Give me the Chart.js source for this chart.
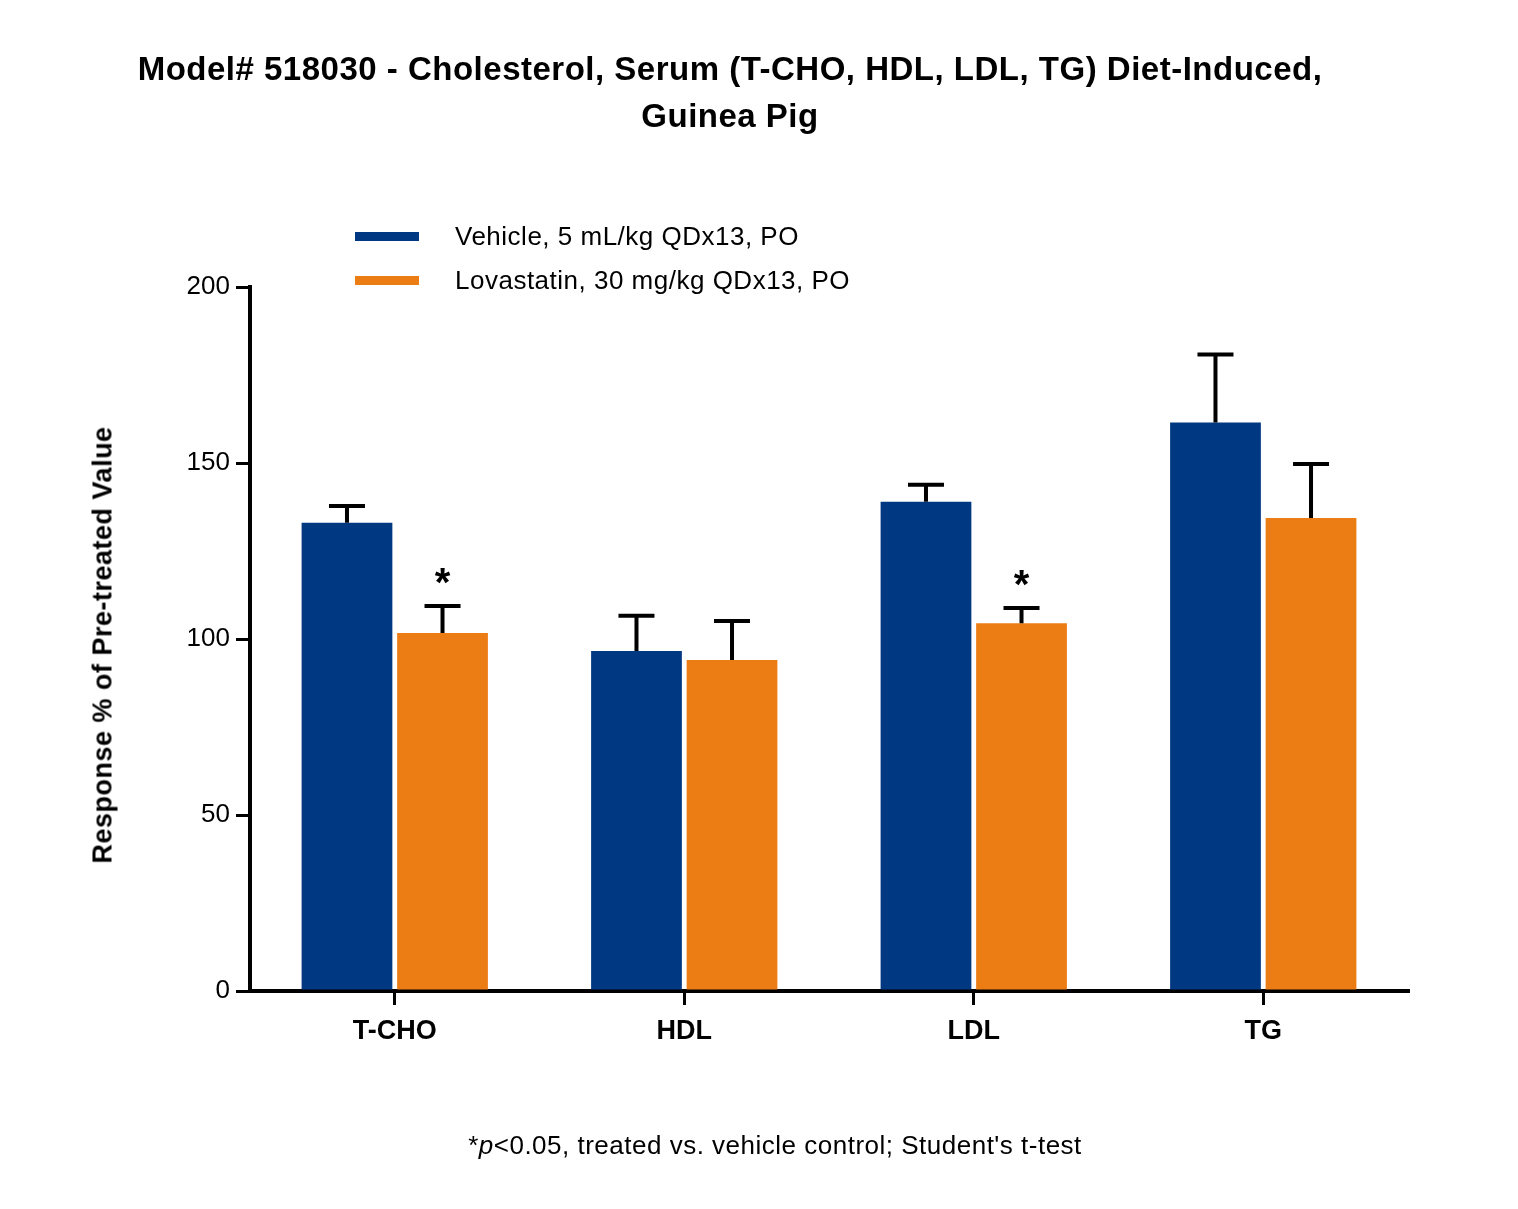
<!DOCTYPE html>
<html>
<head>
<meta charset="utf-8">
<script src="https://cdn.jsdelivr.net/npm/chart.js@4"></script>
<style>
  body { margin: 0; background: #fff; font-family: "Liberation Sans", Arial, sans-serif; }
  #wrap { position: relative; width: 1518px; height: 1209px; }
  canvas { position: absolute; left: 0; top: 0; }
  .title { position: absolute; left: 0; width: 1460px; top: 45px; text-align: center; font-weight: bold; font-size: 33px; line-height: 47px; letter-spacing: 0.5px; }
  .ytitle { position: absolute; left: 103px; top: 645px; transform: translate(-50%, -50%) rotate(-90deg); white-space: nowrap; font-weight: bold; font-size: 27px; letter-spacing: 0.5px; }
  .legend { position: absolute; left: 355px; top: 214px; font-size: 26px; letter-spacing: 0.5px; }
  .legend div { height: 44px; display: flex; align-items: center; }
  .legend span.sw { display: inline-block; width: 64px; height: 9px; margin-right: 36px; }
  .foot { position: absolute; left: 0; width: 1550px; top: 1130px; text-align: center; font-size: 26px; letter-spacing: 0.5px; }
</style>
</head>
<body>
<div id="wrap">
  <canvas id="chart" width="1518" height="1209"></canvas>
  <div class="title">Model# 518030 - Cholesterol, Serum (T-CHO, HDL, LDL, TG) Diet-Induced,<br>Guinea Pig</div>
  <div class="ytitle">Response % of Pre-treated Value</div>
  <div class="legend">
    <div><span class="sw" style="background:#003882"></span>Vehicle, 5 mL/kg QDx13, PO</div>
    <div><span class="sw" style="background:#ec7d14"></span>Lovastatin, 30 mg/kg QDx13, PO</div>
  </div>
  <div class="foot">*<i>p</i>&lt;0.05, treated vs. vehicle control; Student's t-test</div>
</div>
<script>
// 데이터
const categories = ['T-CHO', 'HDL', 'LDL', 'TG'];
const vehicleValues = [133, 96.6, 139, 161.5];
const vehicleErrors = [4.8, 10, 4.8, 19.3];
const lovastatinValues = [101.7, 94, 104.5, 134.4];
const lovastatinErrors = [7.7, 11.1, 4.3, 15.3];
const significant = [true, false, true, false];
const yTicks = [0, 50, 100, 150, 200];

// 오차 막대 + 별표 플러그인
const errorBarPlugin = {
    id: 'errorBars',
    afterDatasetsDraw(chart) {
        const ctx = chart.ctx;
        const y = chart.scales.y;
        const errs = [vehicleErrors, lovastatinErrors];
        ctx.save();
        ctx.strokeStyle = '#000';
        ctx.lineWidth = 4;
        chart.data.datasets.forEach((ds, di) => {
            const meta = chart.getDatasetMeta(di);
            meta.data.forEach((bar, i) => {
                const top = y.getPixelForValue(ds.data[i] + errs[di][i]);
                const base = y.getPixelForValue(ds.data[i]);
                ctx.beginPath();
                ctx.moveTo(bar.x, base);
                ctx.lineTo(bar.x, top);
                ctx.moveTo(bar.x - 18, top);
                ctx.lineTo(bar.x + 18, top);
                ctx.stroke();
                if (di === 1 && significant[i]) {
                    ctx.fillStyle = '#000';
                    ctx.font = 'bold 40px "Liberation Sans", Arial';
                    ctx.textAlign = 'center';
                    ctx.fillText('*', bar.x, top - 10);
                }
            });
        });
        ctx.restore();
    }
};

new Chart(document.getElementById('chart'), {
    type: 'bar',
    data: {
        labels: categories,
        datasets: [
            { label: 'Vehicle', data: vehicleValues, backgroundColor: '#003882' },
            { label: 'Lovastatin', data: lovastatinValues, backgroundColor: '#ec7d14' }
        ]
    },
    options: {
        responsive: false,
        animation: false,
        categoryPercentage: 0.66,
        barPercentage: 0.95,
        layout: { padding: { left: 0, right: 110, top: 287, bottom: 138 } },
        plugins: { legend: { display: false }, tooltip: { enabled: false } },
        scales: {
            x: {
                afterFit: s => { s.height = 80; },
                grid: { drawOnChartArea: false, drawTicks: true, tickLength: 14, color: '#000', lineWidth: 3, offset: false },
                border: { color: '#000', width: 4 },
                ticks: { color: '#000', padding: 10, font: { family: '"Liberation Sans", Arial', size: 27, weight: 'bold' } }
            },
            y: {
                min: 0, max: 200,
                afterFit: s => { s.width = 250; },
                afterBuildTicks: s => { s.ticks = yTicks.map(v => ({ value: v })); },
                grid: { drawOnChartArea: false, drawTicks: true, tickLength: 14, color: '#000', lineWidth: 3 },
                border: { color: '#000', width: 4 },
                ticks: { color: '#000', padding: 6, font: { family: '"Liberation Sans", Arial', size: 26 } }
            }
        }
    },
    plugins: [errorBarPlugin]
});
</script>
</body>
</html>
